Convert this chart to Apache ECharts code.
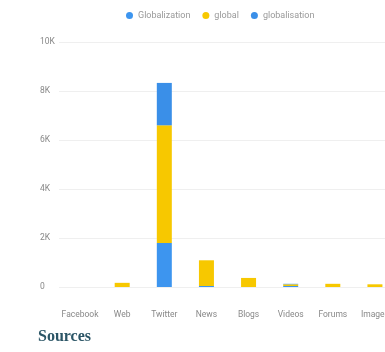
<!DOCTYPE html>
<html>
<head>
<meta charset="utf-8">
<script src="https://cdn.jsdelivr.net/npm/echarts@6/dist/echarts.min.js"></script>
<style>
  html, body { margin: 0; padding: 0; background: #fff; overflow: hidden; }
  #chart { width: 400px; height: 352px; }
</style>
</head>
<body>
<div id="chart"></div>
<script>
// sources on x axis
var categories = ['Facebook', 'Web', 'Twitter', 'News', 'Blogs', 'Videos', 'Forums', 'Images'];
// mentions per keyword (stacked)
var globalizationVals = [0, 0, 1800, 40, 0, 40, 0, 0];
var globalVals = [0, 170, 4800, 1050, 370, 70, 130, 110];
var globalisationVals = [0, 0, 1730, 0, 0, 20, 0, 0];
var yTicks = ['0', '2K', '4K', '6K', '8K', '10K'];

var chart = echarts.init(document.getElementById('chart'));

function bar(name, data, color) {
    return {
        name: name,
        type: 'bar',
        stack: 'total',
        barWidth: 15,
        data: data,
        itemStyle: { color: color },
        emphasis: { disabled: true }
    };
}

chart.setOption({
    animation: false,
    legend: {
        top: 6,
        left: 121,
        icon: 'circle',
        itemWidth: 7,
        itemHeight: 7,
        itemGap: 12,
        textStyle: { color: '#999', fontSize: 9, fontFamily: 'Roboto' }
    },
    grid: { left: 59, top: 42, right: 4, bottom: 65 },
    xAxis: {
        type: 'category',
        data: categories,
        axisLine: { show: false },
        axisTick: { show: false },
        axisLabel: { color: '#888', fontSize: 8.5, fontFamily: 'Roboto', margin: 23, interval: 0 }
    },
    yAxis: {
        type: 'value',
        min: 0,
        max: 10000,
        interval: 2000,
        axisLabel: {
            color: '#888', fontSize: 8.5, fontFamily: 'Roboto', align: 'left', margin: 19,
            formatter: function (v) { return yTicks[v / 2000]; }
        },
        splitLine: { lineStyle: { color: '#efefef' } }
    },
    series: [
        bar('Globalization', globalizationVals, '#3d95ef'),
        bar('global', globalVals, '#f7c800'),
        bar('globalisation', globalisationVals, '#3a8fe8')
    ],
    graphic: [{
        type: 'text',
        left: 38,
        top: 329,
        style: {
            text: 'Sources',
            fill: '#2b5566',
            font: 'bold 16px "Liberation Serif"'
        }
    }]
});
</script>
</body>
</html>
